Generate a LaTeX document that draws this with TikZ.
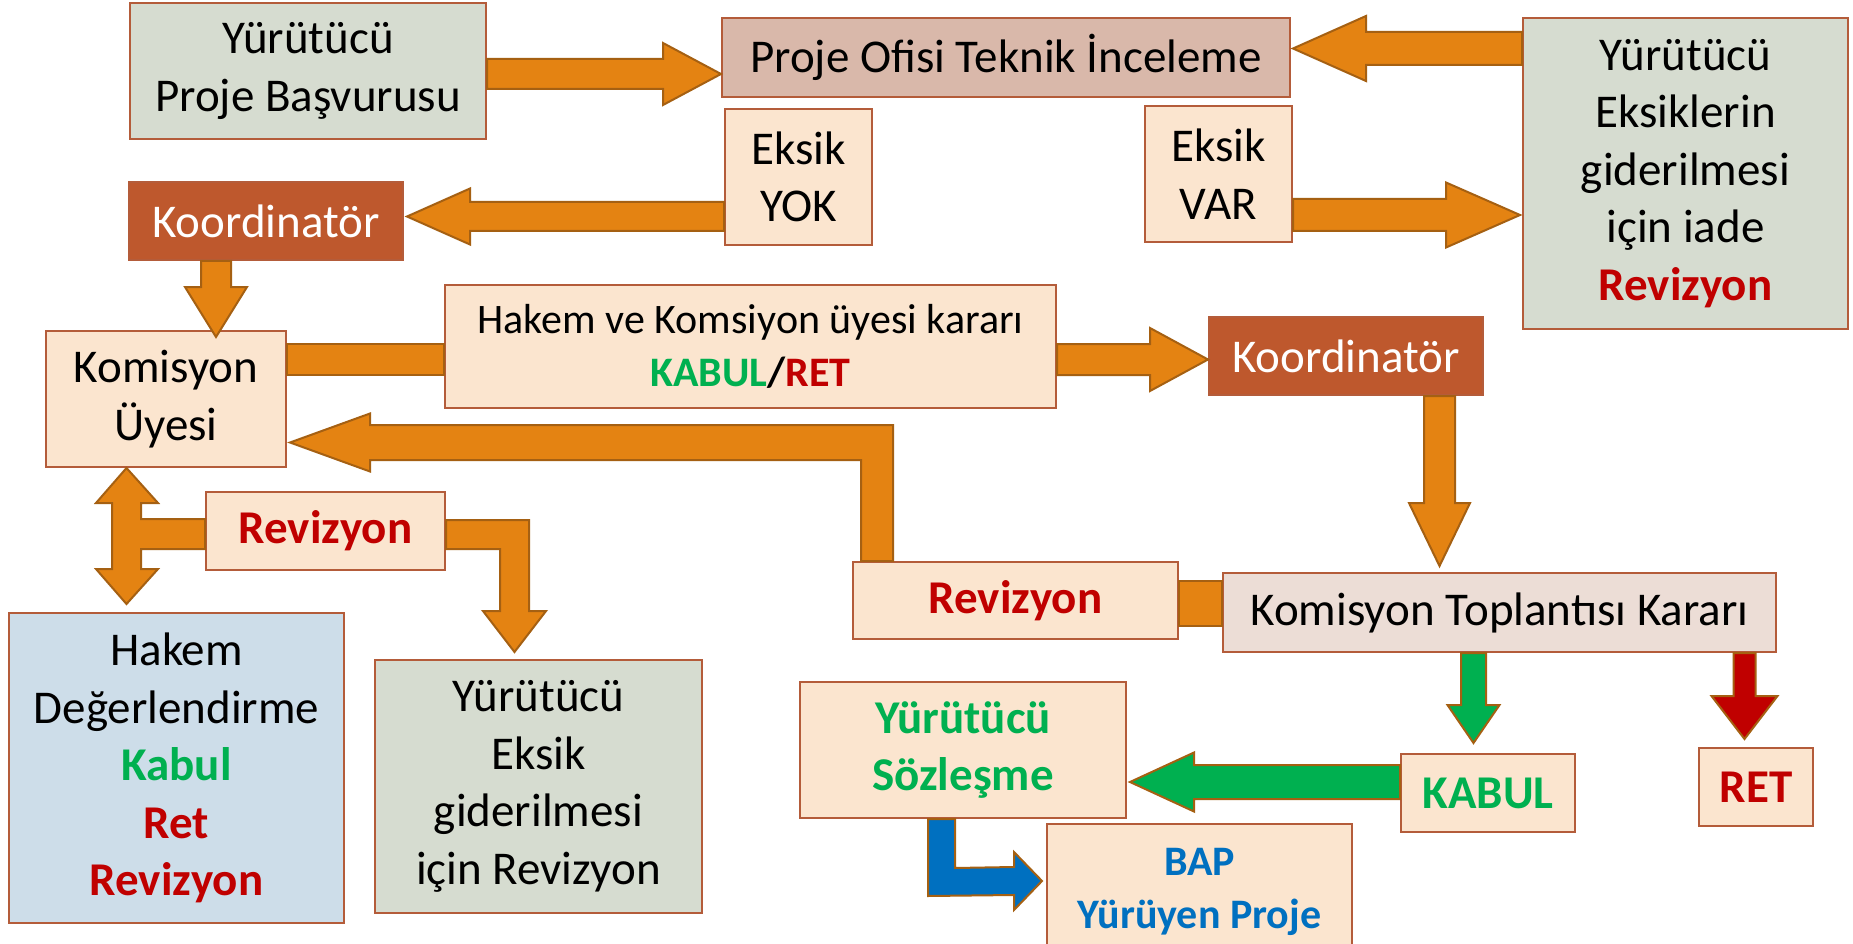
\documentclass[tikz,border=0pt]{standalone}
\usepackage{fontspec}
\setmainfont{Carlito}
\usetikzlibrary{calc}
\definecolor{arrfill}{RGB}{228,131,18}
\definecolor{arrline}{RGB}{165,96,18}
\definecolor{boxline}{RGB}{180,92,58}
\definecolor{peach}{RGB}{251,229,207}
\definecolor{sage}{RGB}{214,220,208}
\definecolor{rose}{RGB}{217,184,170}
\definecolor{rust}{RGB}{190,88,45}
\definecolor{skyl}{RGB}{205,221,233}
\definecolor{blush}{RGB}{236,221,214}
\definecolor{okgreen}{RGB}{0,176,80}
\definecolor{nored}{RGB}{192,0,0}
\definecolor{bapblue}{RGB}{0,112,192}
\tikzset{
  box/.style={draw=boxline, line width=2pt, align=center, inner sep=0pt,
    font=\fontsize{47}{57.5}\selectfont},
  smallbox/.style={box, font=\fontsize{42}{53}\selectfont},
  barr/.style={fill=arrfill, draw=arrline, line width=2pt, line join=miter},
  garr/.style={barr, fill=okgreen},
  rarr/.style={barr, fill=nored},
  blarr/.style={barr, fill=bapblue},
}
% block arrow: [style]{tail}{tip}{shaft half width}{head half width}{head length}
\newcommand\blockarr[6][barr]{%
  \coordinate (bt) at #2;
  \coordinate (bh) at #3;
  \coordinate (bb) at ($(bh)!#6!(bt)$);
  \filldraw[#1] ($(bt)!#4!90:(bh)$) -- ($(bb)!#4!-90:(bt)$) -- ($(bb)!#5!-90:(bt)$)
    -- (bh) -- ($(bb)!#5!90:(bt)$) -- ($(bb)!#4!90:(bt)$) -- ($(bt)!#4!-90:(bh)$) -- cycle;}
\begin{document}
\begin{tikzpicture}[x=1pt,y=-1pt]
\useasboundingbox[fill=white] (0,0) rectangle (1853,944);

% boxes
\node[box, fill=sage, minimum width=356, minimum height=136] (yb) at (308,71) {Yürütücü\\Proje Başvurusu};
\node[box, fill=rose, minimum width=568, minimum height=79] (pot) at (1006,57.5) {Proje Ofisi Teknik İnceleme};
\node[box, fill=sage, minimum width=325, minimum height=311] (yes) at (1685.5,173.5) {Yürütücü\\Eksiklerin\\giderilmesi\\için iade\\\textbf{\textcolor{nored}{Revizyon}}};
\node[box, fill=peach, minimum width=147, minimum height=136] (eyok) at (798.5,177) {Eksik\\YOK};
\node[box, fill=peach, minimum width=147, minimum height=136] (evar) at (1218.5,174) {Eksik\\VAR};
\node[box, fill=rust, text=white, minimum width=274, minimum height=78] (koord1) at (266,221) {Koordinatör};
\node[box, fill=peach, minimum width=240, minimum height=136] (komu) at (166,399) {Komisyon\\Üyesi};
\node[smallbox, fill=peach, minimum width=611, minimum height=123] (hkk) at (750.5,346.5) {Hakem ve Komsiyon üyesi kararı\\\textbf{\textcolor{okgreen}{KABUL}/\textcolor{nored}{RET}}};
\node[box, fill=rust, text=white, minimum width=274, minimum height=78] (koord2) at (1346,356) {Koordinatör};
\node[box, fill=peach, minimum width=239, minimum height=78] (rev1) at (325.5,531) {\textbf{\textcolor{nored}{Revizyon}}};
\node[box, fill=peach, minimum width=325, minimum height=77] (rev2) at (1015.5,600.5) {\textbf{\textcolor{nored}{Revizyon}}};
\node[box, fill=blush, minimum width=553, minimum height=79] (ktk) at (1499.5,612.5) {Komisyon Toplantısı Kararı};
\node[box, fill=skyl, minimum width=335, minimum height=310] (hd) at (176.5,768) {Hakem\\Değerlendirme\\\textbf{\textcolor{okgreen}{Kabul}}\\\textbf{\textcolor{nored}{Ret}}\\\textbf{\textcolor{nored}{Revizyon}}};
\node[box, fill=sage, minimum width=327, minimum height=253] (yeg) at (538.5,786.5) {Yürütücü\\Eksik\\giderilmesi\\için Revizyon};
\node[box, fill=peach, text=okgreen, minimum width=326, minimum height=136] (ys) at (963,750) {\textbf{Yürütücü}\\\textbf{Sözleşme}};
\node[box, fill=peach, text=okgreen, minimum width=174, minimum height=78] (kabul) at (1488,793) {\textbf{KABUL}};
\node[box, fill=peach, text=nored, minimum width=114, minimum height=78] (ret) at (1756,787) {\textbf{RET}};
\node[smallbox, fill=peach, text=bapblue, minimum width=305, minimum height=136] (bap) at (1199.5,892) {\textbf{BAP}\\\textbf{Yürüyen Proje}};

% straight block arrows
\blockarr{($(yb.east)+(0,3)$)}{(pot.west |- bt)}{15pt}{31pt}{58pt}
\blockarr{($(yes.north west)+(0,31.5)$)}{($(pot.east |- bt)+(2,0)$)}{16.5pt}{32.5pt}{73pt}
\blockarr{($(eyok.south west)+(0,-29.5)$)}{($(koord1.east |- bt)+(3,0)$)}{14.5pt}{28pt}{63pt}
\blockarr{($(evar.south east)+(0,-28)$)}{($(yes.west |- bt)+(-2,0)$)}{16pt}{32.5pt}{74pt}
\blockarr{($(koord1.south west)+(88,0)$)}{($(bt |- komu.north)+(0,7)$)}{15pt}{31pt}{50pt}
\blockarr{($(hkk.north east)+(0,75.5)$)}{(koord2.west |- bt)}{15.5pt}{31.5pt}{58pt}
\blockarr{($(koord2.south west)+(231.5,0)$)}{($(bt |- ktk.north)+(0,-6)$)}{15.5pt}{30.5pt}{63pt}
\blockarr[garr]{($(ktk.south west)+(251.5,0)$)}{($(bt |- kabul.north)+(0,-10)$)}{12.5pt}{26pt}{38pt}
\blockarr[rarr]{($(ktk.south west)+(522.5,0)$)}{($(bt |- ret.north)+(0,-8)$)}{11pt}{33pt}{43pt}
\blockarr[garr]{($(kabul.north west)+(0,29)$)}{($(ys.east |- bt)+(3,0)$)}{17pt}{29.5pt}{64pt}

% plain connectors
\filldraw[barr] ($(komu.north east)+(0,14)$) rectangle ($(hkk.west |- komu.north east)+(0,45)$);
\filldraw[barr] ($(rev2.north east)+(0,20)$) rectangle ($(ktk.west |- rev2.north east)+(0,65)$);

% L arrow: lower Revizyon -> Komisyon Uyesi
\coordinate (c9a) at ($(rev2.north west)+(9,0)$);
\coordinate (c9b) at ($(rev2.north west)+(41,0)$);
\coordinate (t9) at ($(komu.north east)+(3,112.5)$);
\coordinate (u9) at ($(t9)+(80,-17.5)$);
\coordinate (d9) at ($(t9)+(80,17.5)$);
\filldraw[barr] (c9a) -- (c9a |- d9) -- (d9) -- ($(d9)+(0,11.5)$) -- (t9)
  -- ($(u9)+(0,-11.5)$) -- (u9) -- (c9b |- u9) -- (c9b) -- cycle;

% double arrow Komisyon Uyesi <-> Hakem Degerlendirme with branch to Revizyon
\coordinate (t10) at ($(komu.south west)+(81.5,0)$);
\coordinate (b10) at ($(hd.north west)+(118.5,-8)$);
\filldraw[barr] (t10) -- ++(31.5,35) -- ++(-17,0) -- ($(rev1.north west)+(-64,28)$)
  -- ($(rev1.north west)+(0,28)$) -- ($(rev1.north west)+(0,58)$) -- ($(rev1.north west)+(-64,58)$)
  -- ($(b10)+(14.5,-35)$) -- ($(b10)+(31.5,-35)$) -- (b10) -- ($(b10)+(-30.5,-35)$)
  -- ($(b10)+(-14.5,-35)$) -- ($(t10)+(-14.5,35)$) -- ($(t10)+(-30.5,35)$) -- cycle;

% L arrow: Revizyon -> Yurutucu Eksik
\coordinate (t11) at ($(yeg.north west)+(140.5,-7)$);
\coordinate (s11) at ($(rev1.north east)+(0,29)$);
\coordinate (s11b) at ($(rev1.north east)+(0,58)$);
\filldraw[barr] (s11) -- ($(t11 |- s11)+(14.5,0)$) -- ($(t11)+(14.5,-41)$) -- ($(t11)+(31.5,-41)$)
  -- (t11) -- ($(t11)+(-31.5,-41)$) -- ($(t11)+(-14.5,-41)$) -- ($(t11 |- s11b)+(-14.5,0)$)
  -- (s11b) -- cycle;

% blue L arrow: Sozlesme -> BAP
\coordinate (t16) at ($(bap.west)+(-4,-11)$);
\filldraw[blarr] ($(ys.south west)+(129,0)$) -- ($(ys.south west)+(156,0)$) -- ($(ys.south west)+(156,49)$)
  -- ($(t16)+(-28,-14)$) -- ($(t16)+(-28,-29)$) -- (t16) -- ($(t16)+(-28,29)$)
  -- ($(t16)+(-28,14)$) -- ($(ys.south west)+(129,77)$) -- cycle;
\end{tikzpicture}
\end{document}
